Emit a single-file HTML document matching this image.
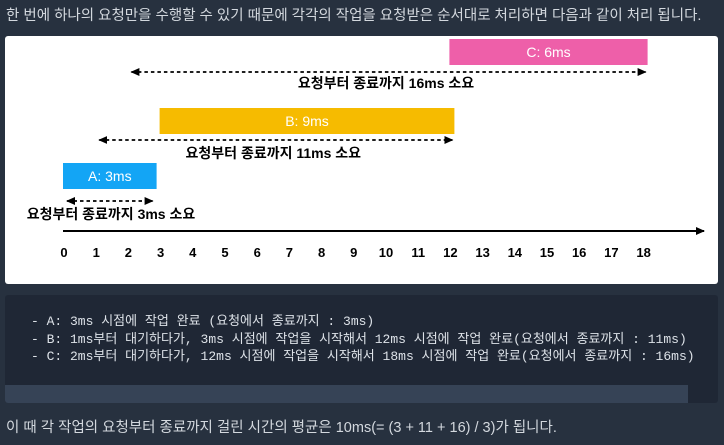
<!DOCTYPE html>
<html><head><meta charset="utf-8"><style>
body{margin:0;width:724px;height:445px;background:#27313f;overflow:hidden;font-family:"Liberation Sans","Noto Sans CJK KR",sans-serif;color:#d3d8de;position:relative}
.t{position:absolute;left:6px;font-size:14.5px;white-space:nowrap}
#code{position:absolute;left:5px;top:295px;width:713px;height:108px;background:#1f2735;border-radius:3px;overflow:hidden}
#code pre{margin:0;position:absolute;left:26px;top:18px;font-family:"Liberation Mono","Noto Sans CJK KR",monospace;font-size:13px;line-height:17.5px;color:#dde2e8}
#sb{position:absolute;left:0;top:90px;width:683px;height:18px;background:#364356}
</style></head><body>
<div class="t" style="top:4px">한 번에 하나의 요청만을 수행할 수 있기 때문에 각각의 작업을 요청받은 순서대로 처리하면 다음과 같이 처리 됩니다.</div>
<svg id="chart" style="position:absolute;left:0;top:0" width="724" height="290">
<defs><marker id="ah" markerUnits="userSpaceOnUse" markerWidth="10" markerHeight="10" refX="8" refY="5" orient="auto-start-reverse"><path d="M0,1L9,5L0,9z" fill="#000"/></marker></defs>
<rect x="5" y="36" width="713" height="248" rx="3" fill="#fff"/>
</svg>
<div id="code"><pre>- A: 3ms 시점에 작업 완료 (요청에서 종료까지 : 3ms)
- B: 1ms부터 대기하다가, 3ms 시점에 작업을 시작해서 12ms 시점에 작업 완료(요청에서 종료까지 : 11ms)
- C: 2ms부터 대기하다가, 12ms 시점에 작업을 시작해서 18ms 시점에 작업 완료(요청에서 종료까지 : 16ms)</pre><div id="sb"></div></div>
<div class="t" style="top:416px">이 때 각 작업의 요청부터 종료까지 걸린 시간의 평균은 10ms(= (3 + 11 + 16) / 3)가 됩니다.</div>
<script>
const ticks=[0,1,2,3,4,5,6,7,8,9,10,11,12,13,14,15,16,17,18];
const jobs=["A","B","C"];
const requestAt=[0,1,2];
const startAt=[0,3,12];
const endAt=[3,12,18];
const colors=["#13a5f5","#f6bb00","#ee5fa9"];
const barY=[163,108,39],arrowY=[201,140,72],labY=[219,158,88];
const X=v=>64+v*32.2;
const svg=document.getElementById('chart'),NS="http://www.w3.org/2000/svg";
function mk(t,a){const e=document.createElementNS(NS,t);for(const k in a)e.setAttribute(k,a[k]);svg.appendChild(e);return e;}
const ax=mk('line',{x1:63,y1:231,x2:704,y2:231,stroke:'#000','stroke-width':2,'marker-end':'url(#ah)'});


ticks.forEach(t=>{const e=mk('text',{x:X(t),y:257,'text-anchor':'middle','font-size':13,'font-weight':'bold',fill:'#000'});e.textContent=t;

});
jobs.forEach((j,i)=>{
const x0=X(startAt[i])-1,x1=X(endAt[i])+(i?4:-4);
const r=mk('rect',{x:x0,y:barY[i],width:x1-x0,height:26,fill:colors[i]});


const bt=mk('text',{x:(x0+x1)/2,y:barY[i]+18,'text-anchor':'middle','font-size':14,fill:'#fff'});bt.textContent=j+": "+(endAt[i]-startAt[i])+"ms";


const a=mk('line',{x1:X(requestAt[i])+3,y1:arrowY[i],x2:X(endAt[i])-(i?-2:8),y2:arrowY[i],stroke:'#000','stroke-width':1.8,'stroke-dasharray':'3.5,3','marker-start':'url(#ah)','marker-end':'url(#ah)'});


const cx=i==0?111:(X(requestAt[i])+X(endAt[i]))/2;
const lt=mk('text',{x:cx,y:labY[i],'text-anchor':'middle','font-size':14,'font-weight':'bold',fill:'#000'});lt.textContent="요청부터 종료까지 "+(endAt[i]-requestAt[i])+"ms 소요";


});
</script>
</body></html>
